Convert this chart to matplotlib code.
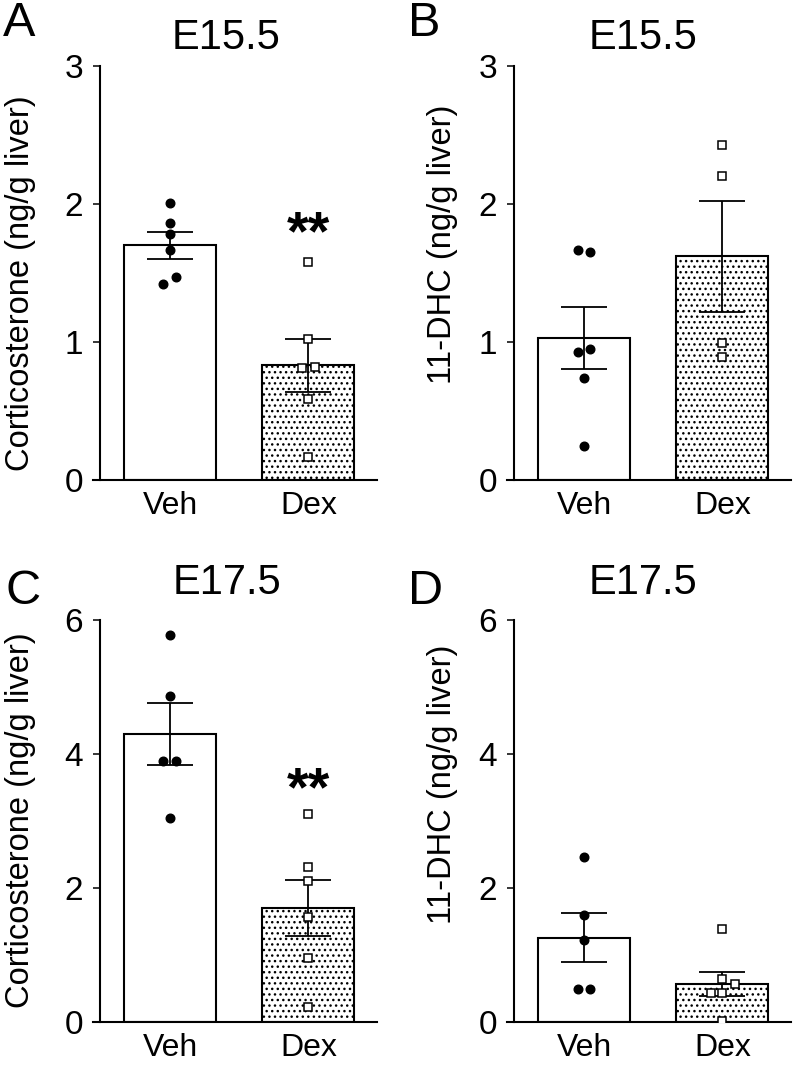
import numpy as np
import matplotlib
matplotlib.use("Agg")
import matplotlib.pyplot as plt

plt.rcParams['font.family'] = ['Liberation Sans', 'DejaVu Sans']
plt.rcParams['hatch.linewidth'] = 1.0
plt.rcParams['hatch.color'] = 'black'

groups = ['Veh', 'Dex']

# panel A: corticosterone E15.5
a_means = [1.70, 0.83]
a_sems = [0.095, 0.19]
a_veh = [2.01, 1.86, 1.78, 1.67, 1.47, 1.42]
a_dex = [1.58, 1.02, 0.81, 0.82, 0.59, 0.17]

# panel B: 11-DHC E15.5
b_means = [1.03, 1.62]
b_sems = [0.225, 0.40]
b_veh = [1.67, 1.65, 0.93, 0.95, 0.74, 0.25]
b_dex = [2.43, 2.20, 0.99, 0.89]

# panel C: corticosterone E17.5
c_means = [4.30, 1.70]
c_sems = [0.465, 0.415]
c_veh = [5.78, 4.87, 3.89, 3.89, 3.04]
c_dex = [3.10, 2.31, 2.11, 1.56, 0.96, 0.22]

# panel D: 11-DHC E17.5
d_means = [1.26, 0.57]
d_sems = [0.37, 0.175]
d_veh = [2.47, 1.60, 1.23, 0.49, 0.49]
d_dex = [1.39, 0.64, 0.56, 0.44, 0.43, 0.02]

# horizontal scatter of the dots (fraction of bar spacing)
a_veh_dx = [0, 0, 0, 0, 0.045, -0.05]
a_dex_dx = [0, 0, -0.048, 0.045, 0, 0]
b_veh_dx = [-0.046, 0.046, -0.046, 0.046, 0, 0]
b_dex_dx = [0, 0, 0, 0]
c_veh_dx = [0, 0, -0.05, 0.045, 0]
c_dex_dx = [0, 0, 0, 0, 0, 0]
d_veh_dx = [0, 0, 0, -0.046, 0.046]
d_dex_dx = [0, 0, 0.09, -0.085, 0, 0]

W, H = 793, 1078
fig = plt.figure(figsize=(W / 100, H / 100), dpi=100)


def px_axes(left, top, right, bottom):
    return fig.add_axes([left / W, 1 - bottom / H, (right - left) / W, (bottom - top) / H])


def panel(ax, means, sems, veh, dex, veh_dx, dex_dx, ymax, yticks, stars=None):
    x = np.arange(2)
    ax.bar(x[0], means[0], 0.664, color='white', edgecolor='black', linewidth=1.5, zorder=1)
    ax.bar(x[1], means[1], 0.664, color='white', edgecolor='black', linewidth=1.5,
           hatch='...', zorder=1)
    ax.errorbar(x, means, yerr=sems, fmt='none', ecolor='black', elinewidth=1.3,
                capsize=16.5, capthick=1.3, zorder=2)
    ax.plot(x[0] + np.array(veh_dx), veh, 'o', color='black', markersize=6.2, zorder=3)
    ax.plot(x[1] + np.array(dex_dx), dex, 's', markerfacecolor='white',
            markeredgecolor='black', markersize=5.6, markeredgewidth=1.1, zorder=3)
    if stars is not None:
        ax.text(x[1], stars, '**', ha='center', va='baseline', fontsize=40,
                fontweight='bold')
    ax.set_xlim(-0.556, 1.495)
    ax.set_ylim(0, ymax)
    ax.set_yticks(yticks)
    ax.set_xticks(x)
    ax.set_xticklabels(groups)
    ax.spines['top'].set_visible(False)
    ax.spines['right'].set_visible(False)
    ax.spines['left'].set_position(('axes', 7 / 284))
    ax.spines['left'].set_linewidth(1.5)
    ax.spines['bottom'].set_linewidth(1.5)
    ax.tick_params(axis='y', length=5, width=1.1, labelsize=24, pad=7)
    ax.tick_params(axis='x', length=0, labelsize=23, pad=8)
    ax.patch.set_visible(False)


axA = px_axes(93, 66, 377, 480)
panel(axA, a_means, a_sems, a_veh, a_dex, a_veh_dx, a_dex_dx, 3, [0, 1, 2, 3], stars=1.67)
axB = px_axes(507, 66, 791, 480)
panel(axB, b_means, b_sems, b_veh, b_dex, b_veh_dx, b_dex_dx, 3, [0, 1, 2, 3])
axC = px_axes(93, 620, 377, 1022)
panel(axC, c_means, c_sems, c_veh, c_dex, c_veh_dx, c_dex_dx, 6, [0, 2, 4, 6], stars=3.24)
axD = px_axes(507, 620, 791, 1022)
panel(axD, d_means, d_sems, d_veh, d_dex, d_veh_dx, d_dex_dx, 6, [0, 2, 4, 6])

# y labels, titles and panel letters
def ftext(xp, yp, s, **kw):
    fig.text(xp / W, 1 - yp / H, s, **kw)

ftext(21, 283, 'Corticosterone (ng/g liver)', rotation=90, ha='center', va='center', fontsize=23.5)
ftext(443, 244, '11-DHC (ng/g liver)', rotation=90, ha='center', va='center', fontsize=23.5)
ftext(21, 820, 'Corticosterone (ng/g liver)', rotation=90, ha='center', va='center', fontsize=23.5)
ftext(443, 784, '11-DHC (ng/g liver)', rotation=90, ha='center', va='center', fontsize=23.5)

ftext(226, 38, 'E15.5', ha='center', va='center', fontsize=30)
ftext(643, 38, 'E15.5', ha='center', va='center', fontsize=30)
ftext(227, 583, 'E17.5', ha='center', va='center', fontsize=30)
ftext(643, 583, 'E17.5', ha='center', va='center', fontsize=30)

ftext(3, 23, 'A', ha='left', va='center', fontsize=35)
ftext(408, 23, 'B', ha='left', va='center', fontsize=35)
ftext(5, 591, 'C', ha='left', va='center', fontsize=35)
ftext(408, 591, 'D', ha='left', va='center', fontsize=35)

fig.savefig('out.png', dpi=100)
